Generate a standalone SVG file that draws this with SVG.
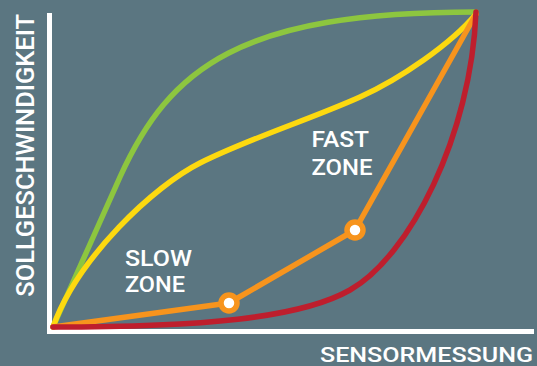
<svg xmlns="http://www.w3.org/2000/svg" width="537" height="366" viewBox="0 0 537 366">
<style>
.lbl{font-family:Roboto,"Liberation Sans",sans-serif;font-weight:500;fill:#ffffff}
.crv{fill:none;stroke-width:5.5;stroke-linecap:round;stroke-linejoin:round}
.axis{stroke:#ffffff;stroke-width:5;fill:none}
.pt{fill:#ffffff;stroke:#f7941d;stroke-width:5.5}
</style>
<rect x="0" y="0" width="537" height="366" fill="#5b7681"/>
<g id="axes">
<line class="axis" x1="49.5" y1="13" x2="49.5" y2="334"/>
<line class="axis" x1="47" y1="331.5" x2="534" y2="331.5"/>
</g>
<g id="connectors">
<path id="green" class="crv" stroke="#8dc63f" d="M53,327 C75,278 98,226 120,177 C170,67 240,12 476,12"/>
<path id="yellow" class="crv" stroke="#fdd90f" d="M53,327 C78,257 155,185.5 200,163 C250,138 310,119.5 360,97 C400,79 451,44 476,14"/>
<path id="orange" class="crv" stroke="#f7941d" d="M53,327 L229,303 L355,230 L476,14"/>
<path id="red" class="crv" stroke="#be1e2d" d="M53,327 C200,327 300,318.5 350,290 C410,256 471,135 476,12"/>
</g>
<g id="point1"><circle class="pt" cx="229" cy="303" r="8"/></g>
<g id="point2"><circle class="pt" cx="355" cy="230" r="8"/></g>
<g id="slow-zone">
<text class="lbl" x="125" y="265.7" font-size="22.5" textLength="67" lengthAdjust="spacingAndGlyphs">SLOW</text>
<text class="lbl" x="125" y="292.3" font-size="22.5" textLength="60" lengthAdjust="spacingAndGlyphs">ZONE</text>
</g>
<g id="fast-zone">
<text class="lbl" x="311.5" y="147.3" font-size="22.5" textLength="57.5" lengthAdjust="spacingAndGlyphs">FAST</text>
<text class="lbl" x="311.5" y="175" font-size="22.5" textLength="61" lengthAdjust="spacingAndGlyphs">ZONE</text>
</g>
<g id="x-label">
<text class="lbl" x="320" y="361.5" font-size="21" textLength="213" lengthAdjust="spacingAndGlyphs">SENSORMESSUNG</text>
</g>
<g id="y-label">
<text class="lbl" transform="translate(33.5,296.7) rotate(-90)" x="0" y="0" font-size="26.5" textLength="282.7" lengthAdjust="spacingAndGlyphs">SOLLGESCHWINDIGKEIT</text>
</g>
</svg>
